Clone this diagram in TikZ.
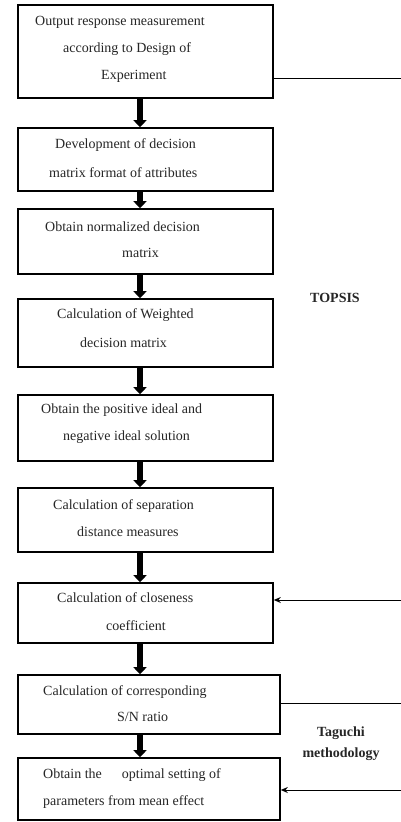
\documentclass[tikz,border=0pt]{standalone}
\usepackage{fontspec}
\setmainfont{Liberation Serif}
\usetikzlibrary{arrows.meta}
\begin{document}
\begin{tikzpicture}[x=1pt,y=-1pt,
  box/.style={draw=black,line width=1.6pt,rectangle,inner sep=0pt},
  txt/.style={anchor=west,inner sep=0pt,text=black!85,font=\fontsize{14}{16}\selectfont},
  lbl/.style={inner sep=0pt,text=black!85,font=\fontsize{14}{16}\selectfont\bfseries},
  flow/.style={line width=5.5pt,-{Triangle[width=13pt,length=7pt]}},
  side/.style={line width=1pt},
  sidearrow/.style={line width=1pt,-{Stealth[width=6pt,length=7pt]}}]
\useasboundingbox (0,0) rectangle (401,822);
\fill[white] (0,0) rectangle (401,822);
% boxes
\node[box,minimum width=255pt,minimum height=93pt] (b1) at (145.5,51.5) {};
\node[box,minimum width=255pt,minimum height=63pt] (b2) at (145.5,159.5) {};
\node[box,minimum width=255pt,minimum height=65pt] (b3) at (145.5,241.5) {};
\node[box,minimum width=255pt,minimum height=68pt] (b4) at (145.5,333) {};
\node[box,minimum width=255pt,minimum height=66pt] (b5) at (145.5,428) {};
\node[box,minimum width=255pt,minimum height=64pt] (b6) at (145.5,520) {};
\node[box,minimum width=255pt,minimum height=60pt] (b7) at (145.5,613) {};
\node[box,minimum width=262pt,minimum height=59pt] (b8) at (149,704.5) {};
\node[box,minimum width=262pt,minimum height=62pt] (b9) at (149,789) {};
% texts
\node[txt] (t1a) at (35,22) {Output response measurement};
\node[txt] (t1b) at (63,49) {according to Design of};
\node[txt] (t1c) at (101,76) {Experiment};
\node[txt] (t2a) at (55,145) {Development of decision};
\node[txt] (t2b) at (49,173) {matrix format of attributes};
\node[txt] (t3a) at (45,227) {Obtain normalized decision};
\node[txt] (t3b) at (122,253) {matrix};
\node[txt] (t4a) at (57,315) {Calculation of Weighted};
\node[txt] (t4b) at (80,343) {decision matrix};
\node[txt] (t5a) at (41,410) {Obtain the positive ideal and};
\node[txt] (t5b) at (63,437) {negative ideal solution};
\node[txt] (t6a) at (53,506) {Calculation of separation};
\node[txt] (t6b) at (77,532) {distance measures};
\node[txt] (t7a) at (57,598) {Calculation of closeness};
\node[txt] (t7b) at (106,626) {coefficient};
\node[txt] (t8a) at (43,692) {Calculation of corresponding};
\node[txt] (t8b) at (117,717) {S/N ratio};
\node[txt] (t9a) at (43,775) {Obtain the\hspace{20pt}optimal setting of};
\node[txt] (t9b) at (43,802) {parameters from mean effect};
\node[lbl] (topsis) at (335,298) {TOPSIS};
\node[lbl] (tag1) at (341,733) {Taguchi};
\node[lbl] (tag2) at (341,754) {methodology};
% flow arrows
\draw[flow] ([xshift=-5.5pt]b1.south) -- ([xshift=-5.5pt]b2.north);
\draw[flow] ([xshift=-5.5pt]b2.south) -- ([xshift=-5.5pt]b3.north);
\draw[flow] ([xshift=-5.5pt]b3.south) -- ([xshift=-5.5pt]b4.north);
\draw[flow] ([xshift=-5.5pt]b4.south) -- ([xshift=-5.5pt]b5.north);
\draw[flow] ([xshift=-5.5pt]b5.south) -- ([xshift=-5.5pt]b6.north);
\draw[flow] ([xshift=-5.5pt]b6.south) -- ([xshift=-5.5pt]b7.north);
\draw[flow] ([xshift=-5.5pt]b7.south) -- ([xshift=-9pt]b8.north);
\draw[flow] ([xshift=-9pt]b8.south) -- ([xshift=-9pt]b9.north);
% side lines
\coordinate (e1) at (401,78);
\coordinate (e2) at (401,600);
\coordinate (e3) at (401,703);
\coordinate (e4) at (401,790);
\draw[side] (e1 -| b1.east) -- (e1);
\draw[sidearrow] (e2) -- (e2 -| b7.east);
\draw[side] (e3 -| b8.east) -- (e3);
\draw[sidearrow] (e4) -- (e4 -| b9.east);
\end{tikzpicture}
\end{document}
